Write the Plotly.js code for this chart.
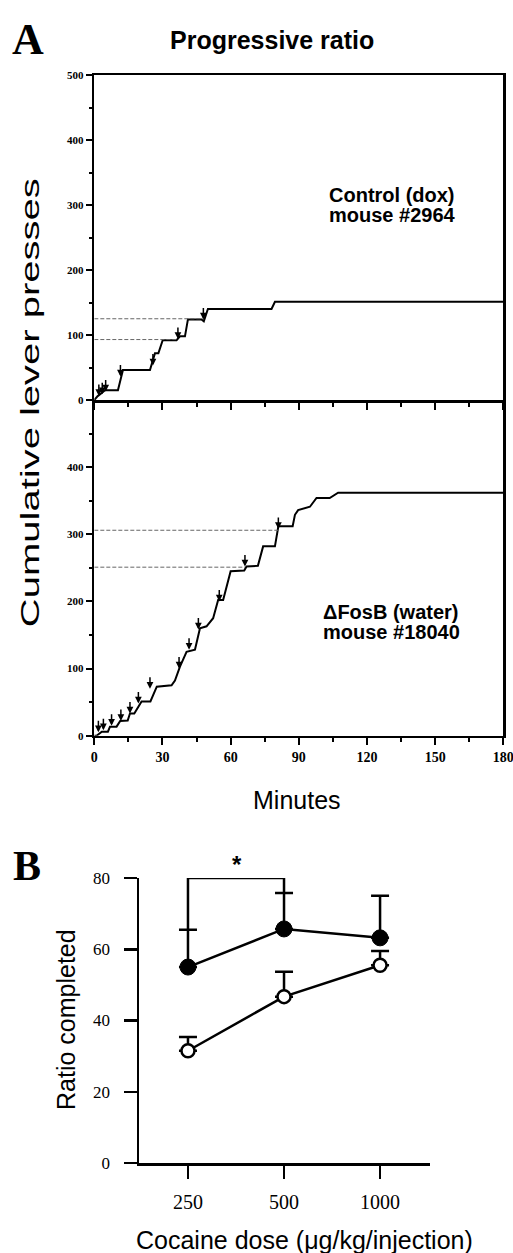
<!DOCTYPE html>
<html>
<head>
<meta charset="utf-8">
<script src="https://cdn.plot.ly/plotly-3.0.1.min.js"></script>
<style>html,body{margin:0;padding:0;background:#fff;}#chart{width:513px;height:1253px;}</style>
</head>
<body>
<div id="chart"></div>
<script>
// ---------- Panel A: cumulative records ----------
const ctrlMin   = [0, 1.5, 3, 4.7, 10.4, 12.6, 24.5, 26.7, 28.2, 30.1, 36.2, 37.7, 39.9, 41.2, 47.2, 48.2, 50, 78, 79.5, 180];
const ctrlPress = [0, 6, 10, 15, 15, 46, 46, 72, 72, 92, 92, 98, 98, 124, 124, 121, 140, 140, 151, 151];
const ctrlArrowMin   = [2, 3.5, 5, 11.5, 25.8, 36.8, 48];
const ctrlArrowPress = [6, 9, 13, 36, 53, 94, 124];
const ctrlDashPress = [93, 125];
const ctrlDashEnd   = [36.4, 47.8];

const fosbMin   = [0, 1, 3.3, 6, 6.9, 9.8, 11.4, 14.7, 15.7, 17.6, 20.8, 24.7, 27.5, 34, 35.5, 37.7, 40.6, 44.3, 46.5, 49.4, 52.3, 54.5, 56.7, 60, 66, 67, 72, 74.3, 79.5, 81, 87.3, 88.3, 89.7, 94.9, 97.8, 103.6, 107.3, 180];
const fosbPress = [0, 0, 6, 6, 13.5, 13.5, 22, 22.5, 33, 33, 51, 51, 73, 75, 82, 103, 125, 128, 160, 163, 175, 202, 202, 245, 246, 252, 253, 282, 282, 312, 312, 329, 336, 341, 354, 354, 362, 362];
const fosbArrowMin   = [1.8, 4, 7.6, 11.7, 15.7, 19.4, 24.5, 37.3, 41.7, 45.8, 55, 66.3, 81];
const fosbArrowPress = [5, 8, 15, 22, 33, 48, 70, 100, 128, 158, 200, 252, 308];
const fosbDashPress = [251, 306];
const fosbDashEnd   = [66.3, 81];

const minuteTicks = [0, 30, 60, 90, 120, 150, 180];
const pressTicksTop = [0, 100, 200, 300, 400, 500];
const pressTicksBottom = [0, 100, 200, 300, 400];

// ---------- Panel B: ratio completed ----------
const doses = ['250', '500', '1000'];
const filledRatio = [55, 65.7, 63.2];
const filledErr   = [10.5, 10.1, 11.8];
const openRatio   = [31.5, 46.7, 55.5];
const openErr     = [3.9, 7, 4];
const ratioTicks  = [0, 20, 40, 60, 80];
const sigFrom = 0, sigTo = 1, sigTop = 80;

const W = 513, H = 1253;
const px = v => v / W;
const py = v => (H - v) / H;

const black = '#000';
const sans = 'Liberation Sans, Arial, sans-serif';
const serif = 'Liberation Serif, Times New Roman, serif';

const doseIdx = doses.map((d, i) => i);

const traces = [];
traces.push({x: ctrlMin, y: ctrlPress, xaxis: 'x2', yaxis: 'y', mode: 'lines',
  line: {color: black, width: 2}, hoverinfo: 'skip', cliponaxis: false});
ctrlDashPress.forEach((v, i) => traces.push({x: [0, ctrlDashEnd[i]], y: [v, v], xaxis: 'x2', yaxis: 'y',
  mode: 'lines', line: {color: '#666', width: 1, dash: '4px,2px'}, hoverinfo: 'skip'}));
traces.push({x: fosbMin, y: fosbPress, xaxis: 'x', yaxis: 'y2', mode: 'lines',
  line: {color: black, width: 2}, hoverinfo: 'skip', cliponaxis: false});
fosbDashPress.forEach((v, i) => traces.push({x: [0, fosbDashEnd[i]], y: [v, v], xaxis: 'x', yaxis: 'y2',
  mode: 'lines', line: {color: '#666', width: 1, dash: '4px,2px'}, hoverinfo: 'skip'}));

traces.push({x: doseIdx, y: filledRatio, xaxis: 'x3', yaxis: 'y3', mode: 'lines+markers',
  line: {color: black, width: 2.5},
  marker: {symbol: 'circle', size: 16, color: black, line: {color: black, width: 1}},
  error_y: {type: 'data', symmetric: false, array: filledErr, arrayminus: [0, 0, 0],
    color: black, thickness: 2.5, width: 9}, cliponaxis: false, hoverinfo: 'skip'});
traces.push({x: doseIdx, y: openRatio, xaxis: 'x3', yaxis: 'y3', mode: 'lines+markers',
  line: {color: black, width: 2.5},
  marker: {symbol: 'circle', size: 13, color: '#fff', line: {color: black, width: 2.5}},
  error_y: {type: 'data', symmetric: false, array: openErr, arrayminus: [0, 0, 0],
    color: black, thickness: 2.5, width: 9}, cliponaxis: false, hoverinfo: 'skip'});
traces.push({x: [sigFrom, sigFrom, sigTo, sigTo],
  y: [filledRatio[sigFrom] + filledErr[sigFrom], sigTop, sigTop, filledRatio[sigTo] + filledErr[sigTo]],
  xaxis: 'x3', yaxis: 'y3', mode: 'lines', line: {color: black, width: 2.5}, cliponaxis: false, hoverinfo: 'skip'});

const annotations = [];
const arrowAnn = (xs, ys, xref, yref) => xs.forEach((x, i) => annotations.push({
  x: x, y: ys[i], xref: xref, yref: yref, text: '', showarrow: true, ax: 0, ay: -13,
  arrowhead: 2, arrowsize: 0.9, arrowwidth: 1.5, arrowcolor: black, standoff: 0}));
arrowAnn(ctrlArrowMin, ctrlArrowPress, 'x2', 'y');
arrowAnn(fosbArrowMin, fosbArrowPress, 'x', 'y2');

const txt = (text, x, y, font, extra) => annotations.push(Object.assign({
  text: text, x: px(x), y: py(y), xref: 'paper', yref: 'paper', showarrow: false,
  xanchor: 'center', yanchor: 'middle', font: font}, extra || {}));

txt('A', 28, 40, {family: serif, size: 44, color: black, weight: 'bold'});
txt('Progressive ratio', 272, 40, {family: sans, size: 25, color: black, weight: 'bold'});
txt('Control (dox)', 392, 195, {family: sans, size: 20, color: black, weight: 'bold'});
txt('mouse #2964', 392, 215, {family: sans, size: 20, color: black, weight: 'bold'});
txt('ΔFosB (water)', 391, 612, {family: sans, size: 20, color: black, weight: 'bold'});
txt('mouse #18040', 391, 632, {family: sans, size: 20, color: black, weight: 'bold'});
txt('Cumulative lever presses', 30, 403, {family: sans, size: 25, color: black}, {textangle: -90});
txt('Minutes', 297, 800, {family: sans, size: 25, color: black});
txt('B', 27, 866, {family: serif, size: 42, color: black, weight: 'bold'});
txt('*', 237, 864, {family: sans, size: 24, color: black, weight: 'bold'});
txt('Ratio completed', 66, 1020, {family: sans, size: 25, color: black}, {textangle: -90});
txt('Cocaine dose (μg/kg/injection)', 304, 1240, {family: sans, size: 25, color: black});

const axA_x = {
  range: [0, 180], tickvals: minuteTicks, ticks: 'outside', ticklen: 7, tickwidth: 2, tickcolor: black,
  showline: true, linecolor: black, linewidth: 2.5, showgrid: false, zeroline: false,
  ticklabeloverflow: 'allow',
  minor: {ticks: 'outside', tickvals: [15, 45, 75, 105, 135, 165], ticklen: 4, tickwidth: 2, tickcolor: black, showgrid: false},
  tickfont: {family: serif, size: 14, color: black, weight: 'bold'}
};
const axA_y = {
  range: [0, 500], ticks: 'outside', ticklen: 6, tickwidth: 2, tickcolor: black,
  showline: true, linecolor: black, linewidth: 2.5, mirror: true, showgrid: false, zeroline: false,
  tickfont: {family: serif, size: 11, color: black, weight: 'bold'}
};
const minorY = {ticks: 'outside', tickvals: [50, 150, 250, 350, 450], ticklen: 3, tickwidth: 2, tickcolor: black, showgrid: false};

const layout = {
  width: W, height: H, margin: {l: 0, r: 0, t: 0, b: 0},
  paper_bgcolor: '#fff', plot_bgcolor: 'rgba(0,0,0,0)', showlegend: false,
  xaxis: Object.assign({}, axA_x, {domain: [px(94.3), px(503.3)], anchor: 'y2'}),
  xaxis2: Object.assign({}, axA_x, {domain: [px(94.3), px(503.3)], anchor: 'y', matches: 'x',
    showticklabels: false, mirror: true}),
  yaxis: Object.assign({}, axA_y, {domain: [py(400), py(75)], anchor: 'x2', tickvals: pressTicksTop, minor: minorY}),
  yaxis2: Object.assign({}, axA_y, {domain: [py(735.7), py(400)], anchor: 'x', tickvals: pressTicksBottom, minor: minorY}),
  xaxis3: {domain: [px(139), px(430)], anchor: 'y3', range: [-0.51, 2.52],
    tickvals: doseIdx, ticktext: doses, ticks: 'outside', ticklen: 13, tickwidth: 2.5, tickcolor: black,
    showline: true, linecolor: black, linewidth: 2.5, showgrid: false, zeroline: false,
    tickfont: {family: serif, size: 20, color: black}, ticklabelstandoff: 6},
  yaxis3: {domain: [py(1163), py(878)], anchor: 'x3', range: [0, 80], tickvals: ratioTicks,
    ticks: 'outside', ticklen: 13, tickwidth: 2.5, tickcolor: black,
    showline: true, linecolor: black, linewidth: 2.5, showgrid: false, zeroline: false,
    tickfont: {family: serif, size: 17, color: black}, ticklabelstandoff: 10},
  annotations: annotations
};

Plotly.newPlot('chart', traces, layout, {displayModeBar: false, staticPlot: true}).then(gd => {
  // the reference's rotated y title in panel A is stretched along its reading direction
  gd.querySelectorAll('text.annotation-text').forEach(t => {
    if (t.textContent === 'Cumulative lever presses') {
      const b = t.getBBox();
      const cx = b.x + b.width / 2, cy = b.y + b.height / 2;
      const prev = t.getAttribute('transform') || '';
      t.setAttribute('transform', prev + ` translate(${cx},${cy}) scale(1.6,1) translate(${-cx},${-cy})`);
    }
  });
});
</script>
</body>
</html>
